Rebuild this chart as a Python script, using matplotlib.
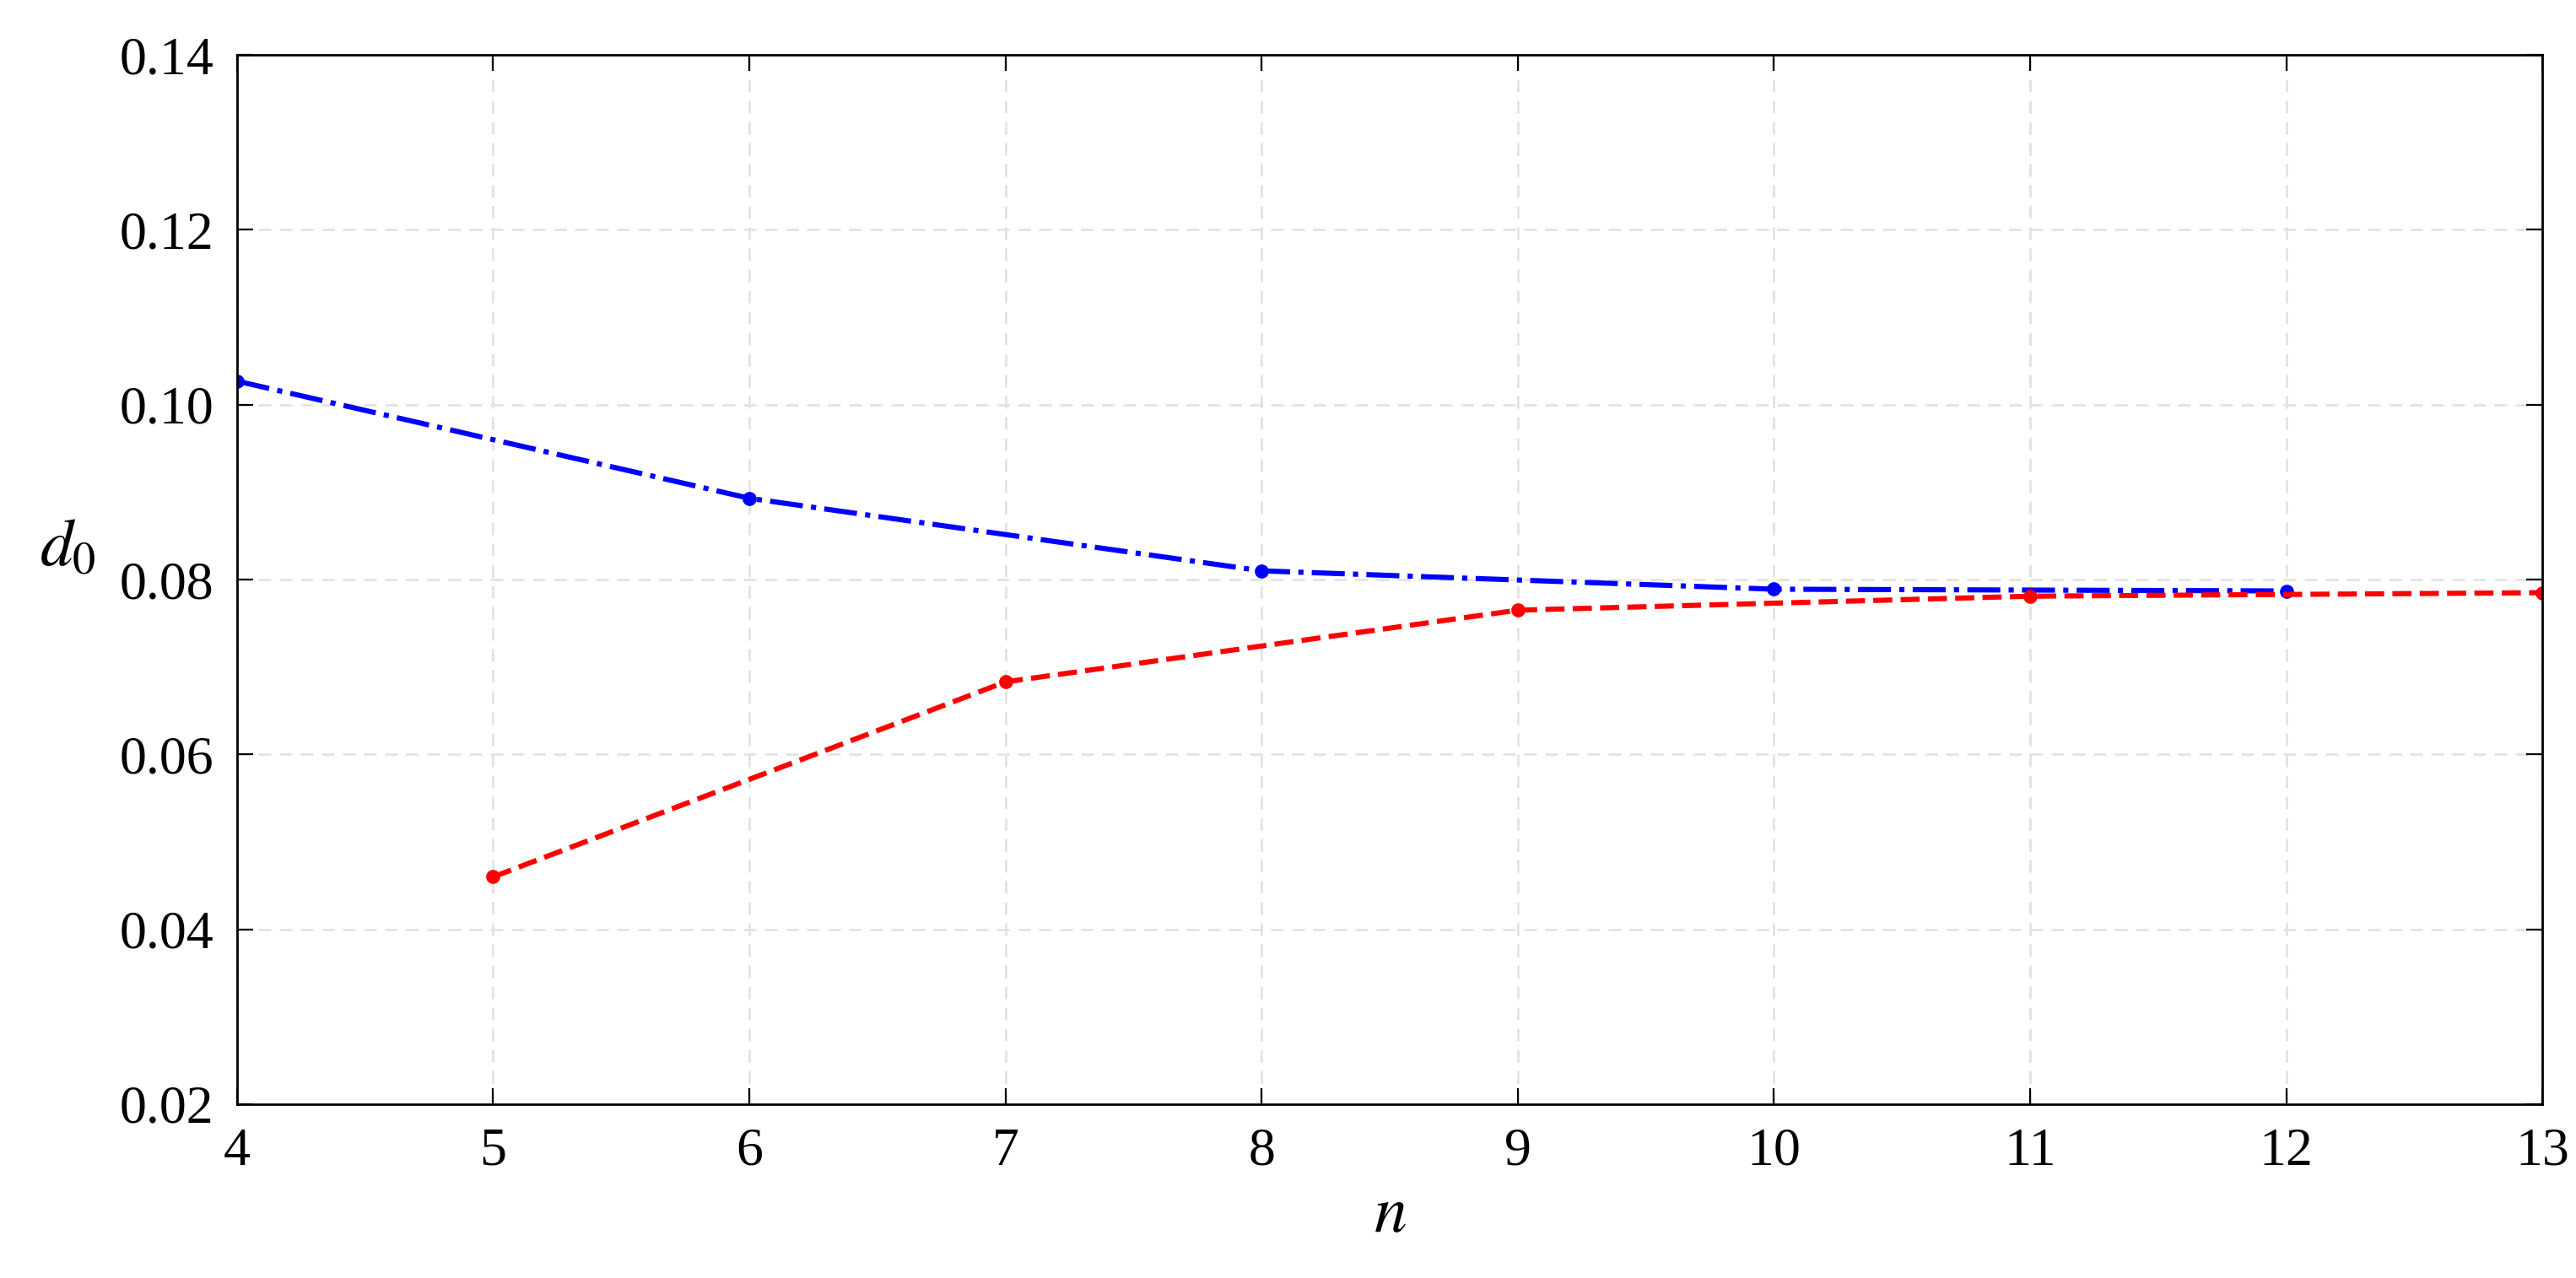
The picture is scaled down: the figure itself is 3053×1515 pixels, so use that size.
import matplotlib
matplotlib.use("Agg")
import matplotlib.pyplot as plt

blue_n = [4, 6, 8, 10, 12]
blue_d = [0.1027, 0.0893, 0.0810, 0.0789, 0.0787]
red_n = [5, 7, 9, 11, 13]
red_d = [0.0460, 0.0683, 0.0765, 0.0781, 0.0785]

plt.rcParams['font.family'] = ['Liberation Serif', 'DejaVu Serif']
plt.rcParams['mathtext.fontset'] = 'stix'
fig = plt.figure(figsize=(15.265, 7.575), dpi=200)
ax = fig.add_axes([0.092, 0.136, 0.895, 0.821])
ax.plot(blue_n, blue_d, color='blue', linestyle='-.', linewidth=2.2, marker='o', markersize=5)
ax.plot(red_n, red_d, color='red', linestyle='--', linewidth=2.2, marker='o', markersize=5)
ax.set_xlim(4, 13)
ax.set_ylim(0.02, 0.14)
ax.set_xticks(range(4, 14))
ax.set_yticks([0.02, 0.04, 0.06, 0.08, 0.10, 0.12, 0.14])
ax.set_yticklabels([f"{v:.2f}" for v in ax.get_yticks()])
ax.grid(True, linestyle=(0, (6, 4)), color='#e0e0e0', linewidth=0.9)
ax.tick_params(direction='in', labelsize=23, top=True, right=True, length=7, pad=10)
ax.set_xlabel(r'$n$', fontsize=28, labelpad=4)
ax.set_ylabel(r'$d_0$', fontsize=28, rotation=0, labelpad=22)
for s in ax.spines.values():
    s.set_linewidth(1.0)
fig.savefig("out.png", dpi=200)
